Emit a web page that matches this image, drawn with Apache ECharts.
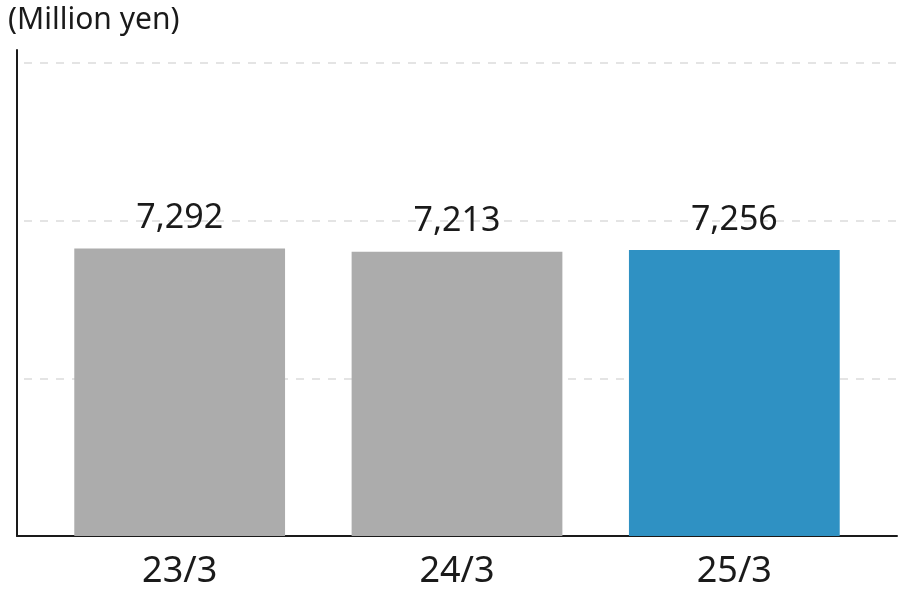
<!DOCTYPE html>
<html><head><meta charset="utf-8">
<script src="https://cdn.jsdelivr.net/npm/echarts@6/dist/echarts.min.js"></script>
<style>html,body{margin:0;padding:0;background:#fff}#c{width:900px;height:600px}</style>
</head><body><div id="c"></div>
<script>
const categories = ['23/3', '24/3', '25/3'];
const values = [7292, 7213, 7256];
const colors = ['#acacac', '#acacac', '#2f91c3'];
const unitLabel = '(Million yen)';

const chart = echarts.init(document.getElementById('c'), null, {renderer: 'canvas'});
const font = '"Noto Sans", "Open Sans", sans-serif';
const yMax = 12329;
chart.setOption({
  animation: false,
  title: {text: unitLabel, left: 3, top: 0, textStyle: {fontFamily: font, fontSize: 30, fontWeight: 'normal', color: '#1a1a1a'}},
  grid: [
    {left: 17, right: 3, top: 50, bottom: 64},
    {left: 41, right: 27, top: 50, bottom: 64}
  ],
  xAxis: [
    {gridIndex: 0, type: 'category', data: categories, axisLine: {lineStyle: {color: '#1a1a1a', width: 2}}, axisTick: {show: false}, axisLabel: {show: false}},
    {gridIndex: 1, type: 'category', data: categories, axisLine: {show: false}, axisTick: {show: false},
     axisLabel: {fontFamily: font, fontSize: 36, color: '#1a1a1a', margin: 18}}
  ],
  yAxis: [
    {gridIndex: 0, type: 'value', min: 0, max: yMax, interval: 4000,
     axisLine: {show: true, lineStyle: {color: '#1a1a1a', width: 2}}, axisTick: {show: false}, axisLabel: {show: false},
     splitLine: {show: true, showMaxLine: false, showMinLine: false, lineStyle: {color: '#dcdcdc', type: [8, 8], dashOffset: 9, width: 1.5}}},
    {gridIndex: 1, type: 'value', min: 0, max: yMax, interval: 4000,
     axisLine: {show: false}, axisTick: {show: false}, axisLabel: {show: false}, splitLine: {show: false}}
  ],
  series: [{
    type: 'bar', xAxisIndex: 1, yAxisIndex: 1, barWidth: '76%',
    data: values.map((v, i) => ({value: v, itemStyle: {color: colors[i]}})),
    label: {show: true, position: 'top', distance: 13, fontFamily: font, fontSize: 34, color: '#1a1a1a',
      formatter: p => p.value.toLocaleString('en-US')}
  }]
});
</script></body></html>
